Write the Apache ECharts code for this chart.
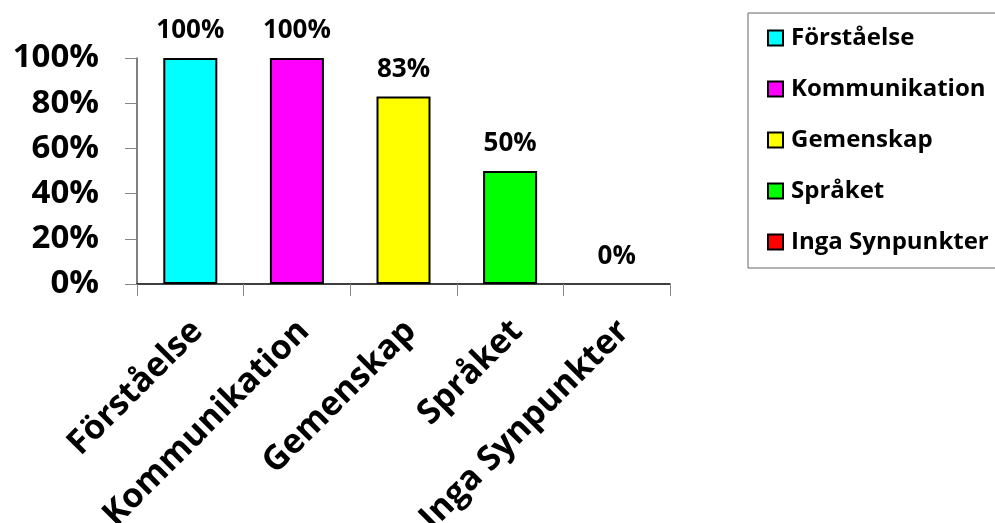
<!DOCTYPE html>
<html><head><meta charset="utf-8">
<script src="https://cdn.jsdelivr.net/npm/echarts@6/dist/echarts.min.js"></script>
<style>html,body{margin:0;padding:0;background:#fff}#c{width:995px;height:523px}</style>
</head><body><div id="c"></div>
<script>
const categories = ['Förståelse', 'Kommunikation', 'Gemenskap', 'Språket', 'Inga Synpunkter'];
const values = [1.00, 1.00, 0.83, 0.50, 0.00];
const colors = ['#00FFFF', '#FF00FF', '#FFFF00', '#00FF00', '#FF0000'];
const yTicks = [0, 0.2, 0.4, 0.6, 0.8, 1.0];

const FONT = 'Open Sans';
const chart = echarts.init(document.getElementById('c'));
const series = categories.map((name, i) => ({
  name: name,
  type: 'bar',
  stack: 'all',
  barWidth: 54,
  data: categories.map((c, j) => j === i ? values[i] : '-'),
  itemStyle: { color: colors[i], borderColor: '#000', borderWidth: values[i] > 0 ? 2 : 0 },
  label: {
    show: true, position: 'top', distance: 14,
    formatter: p => Math.round(p.value * 100) + '%',
    fontFamily: FONT, fontWeight: 'bold', fontSize: 26, color: '#000'
  }
}));
chart.setOption({
  animation: false,
  grid: { left: 137, right: 325, top: 58, bottom: 239, containLabel: false, outerBoundsMode: 'none' },
  legend: {
    orient: 'vertical', left: 748, top: 13,
    padding: [13, 11, 14, 19],
    itemGap: 27, itemWidth: 15, itemHeight: 15,
    icon: 'rect',
    borderColor: '#666', borderWidth: 1,
    itemStyle: { borderColor: '#000', borderWidth: 2 },
    textStyle: { fontFamily: FONT, fontWeight: 'bold', fontSize: 24, color: '#000', padding: [0, 0, 0, 3] },
    data: categories
  },
  xAxis: {
    type: 'category', data: categories,
    axisLine: { lineStyle: { color: '#000', width: 1.5 } },
    axisTick: { show: true, length: 12, lineStyle: { color: '#888' } },
    axisLabel: { rotate: 45, fontFamily: FONT, fontWeight: 'bold', fontSize: 34, color: '#000', margin: 25, padding: [0, 7, 0, 0], interval: 0, verticalAlign: 'top' }
  },
  yAxis: {
    type: 'value', min: 0, max: 1, interval: 0.2,
    axisLine: { show: true, lineStyle: { color: '#555', width: 1.5 } },
    axisTick: { show: true, length: 12, lineStyle: { color: '#888' } },
    splitLine: { show: false },
    axisLabel: { formatter: v => Math.round(v * 100) + '%', fontFamily: FONT, fontWeight: 'bold', fontSize: 33, color: '#000', margin: 38 }
  },
  series: series
});
</script></body></html>
